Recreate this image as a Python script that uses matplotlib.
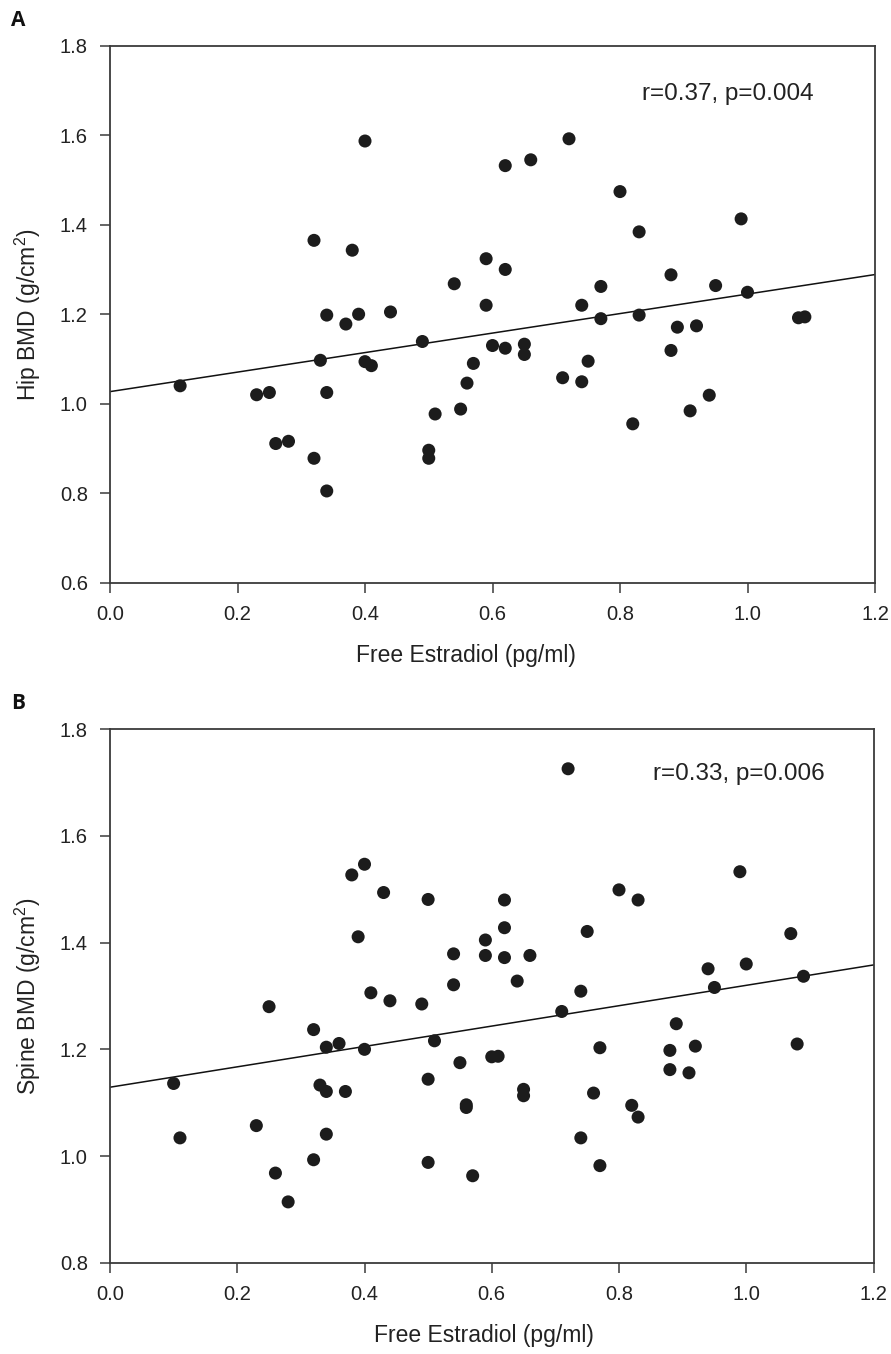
import matplotlib
matplotlib.use("Agg")
import matplotlib.pyplot as plt

plt.rcParams['font.family'] = ['Liberation Sans', 'DejaVu Sans']
plt.rcParams['mathtext.fontset'] = 'custom'
plt.rcParams['mathtext.rm'] = 'Liberation Sans'
plt.rcParams['mathtext.it'] = 'Liberation Sans:italic'
plt.rcParams['mathtext.bf'] = 'Liberation Sans:bold'

# ---- Panel A: Hip BMD vs Free Estradiol ----
hip_x = [0.11, 0.23, 0.25, 0.26, 0.28, 0.32, 0.33, 0.34, 0.34, 0.34,
         0.37, 0.39, 0.40, 0.41, 0.44, 0.49, 0.50, 0.50, 0.51, 0.55,
         0.56, 0.57, 0.59, 0.60, 0.40, 0.32, 0.38, 0.59, 0.54, 0.62,
         0.66, 0.72, 0.80, 0.83, 0.99, 0.62, 0.88, 0.77, 0.95, 1.00,
         0.74, 0.77, 0.83, 0.89, 0.92, 1.08, 1.09, 0.62, 0.65, 0.65,
         0.75, 0.71, 0.74, 0.88, 0.94, 0.91, 0.82]
hip_y = [1.040, 1.020, 1.025, 0.911, 0.916, 0.878, 1.097, 1.198, 1.025, 0.805,
         1.178, 1.200, 1.094, 1.085, 1.205, 1.139, 0.896, 0.878, 0.977, 0.988,
         1.046, 1.090, 1.220, 1.130, 1.587, 1.365, 1.343, 1.324, 1.268, 1.532,
         1.545, 1.592, 1.474, 1.384, 1.413, 1.300, 1.288, 1.262, 1.264, 1.249,
         1.220, 1.190, 1.198, 1.171, 1.174, 1.192, 1.194, 1.124, 1.133, 1.110,
         1.095, 1.058, 1.049, 1.119, 1.019, 0.984, 0.955]
hip_fit = (1.027, 0.218)      # intercept, slope of the drawn regression line
hip_stats = "r=0.37, p=0.004"

# ---- Panel B: Spine BMD vs Free Estradiol ----
spine_x = [0.10, 0.11, 0.23, 0.25, 0.26, 0.28, 0.32, 0.32, 0.33, 0.34,
           0.34, 0.34, 0.36, 0.37, 0.38, 0.39, 0.40, 0.40, 0.41, 0.43,
           0.44, 0.49, 0.50, 0.50, 0.50, 0.51, 0.54, 0.54, 0.55, 0.56,
           0.56, 0.57, 0.59, 0.59, 0.60, 0.61, 0.62, 0.62, 0.62, 0.64,
           0.65, 0.65, 0.66, 0.71, 0.72, 0.74, 0.74, 0.75, 0.76, 0.77,
           0.77, 0.80, 0.82, 0.83, 0.83, 0.88, 0.88, 0.89, 0.91, 0.92,
           0.94, 0.95, 0.99, 1.00, 1.07, 1.08, 1.09]
spine_y = [1.136, 1.034, 1.057, 1.280, 0.968, 0.914, 1.237, 0.993, 1.133, 1.204,
           1.121, 1.041, 1.211, 1.121, 1.527, 1.411, 1.547, 1.200, 1.306, 1.494,
           1.291, 1.285, 1.481, 1.144, 0.988, 1.216, 1.379, 1.321, 1.175, 1.096,
           1.091, 0.963, 1.405, 1.376, 1.186, 1.187, 1.480, 1.428, 1.372, 1.328,
           1.125, 1.113, 1.376, 1.271, 1.726, 1.309, 1.034, 1.421, 1.118, 1.203,
           0.982, 1.499, 1.095, 1.480, 1.073, 1.198, 1.162, 1.248, 1.156, 1.206,
           1.351, 1.316, 1.533, 1.360, 1.417, 1.210, 1.337]
spine_fit = (1.129, 0.191)
spine_stats = "r=0.33, p=0.006"

x_ticks = [0.0, 0.2, 0.4, 0.6, 0.8, 1.0, 1.2]
hip_yticks = [0.6, 0.8, 1.0, 1.2, 1.4, 1.6, 1.8]
spine_yticks = [0.8, 1.0, 1.2, 1.4, 1.6, 1.8]
x_label = "Free Estradiol (pg/ml)"

W, H = 891, 1354
fig = plt.figure(figsize=(W / 100, H / 100), dpi=100)

TXT = '#222222'
SPINE = '#3a3a3a'
DOT = '#1c1c1c'

def px_axes(l, t, r, b):
    return [l / W, 1 - b / H, (r - l) / W, (b - t) / H]

def panel(rect, xs, ys, fit, stats, yticks, ylabel, stat_pos, xlab_x):
    ax = fig.add_axes(rect)
    ax.scatter(xs, ys, s=88, color=DOT, edgecolors='none', zorder=3)
    ax.axline((0, fit[0]), slope=fit[1], color='#111111', lw=1.1, zorder=2)
    ax.set_xlim(0, 1.2)
    ax.set_ylim(yticks[0], yticks[-1])
    ax.set_xticks(x_ticks)
    ax.set_xticklabels([f"{t:.1f}" for t in x_ticks])
    ax.set_yticks(yticks)
    ax.set_yticklabels([f"{t:.1f}" for t in yticks])
    ax.tick_params(axis='both', direction='out', length=7, width=1.1,
                   color=SPINE, labelsize=14.5, labelcolor=TXT)
    ax.tick_params(axis='y', pad=9)
    ax.tick_params(axis='x', pad=9)
    for s in ax.spines.values():
        s.set_color(SPINE)
        s.set_linewidth(1.3)
    ax.set_xlabel(x_label, fontsize=16.5, color=TXT, va='top')
    ax.xaxis.set_label_coords(xlab_x, -0.115)
    ax.set_ylabel(ylabel, fontsize=16.5, color=TXT)
    ax.yaxis.set_label_coords(-0.088, 0.5)
    ax.text(stat_pos[0], stat_pos[1], stats, transform=ax.transAxes,
            fontsize=17.5, color=TXT, ha='left', va='baseline')
    return ax

panel(px_axes(110, 45.7, 875, 582.7), hip_x, hip_y, hip_fit, hip_stats,
      hip_yticks, r'Hip BMD (g/cm$^2$)', (0.695, 0.899), 0.465)
panel(px_axes(110, 729.3, 873.5, 1262.7), spine_x, spine_y, spine_fit, spine_stats,
      spine_yticks, r'Spine BMD (g/cm$^2$)', (0.711, 0.905), 0.49)

fig.text(11 / W, 1 - 26 / H, "A", fontsize=15, fontweight='bold',
         family=['Open Sans', 'DejaVu Sans'], color='#111111', va='baseline')
fig.text(11 / W, 1 - 709 / H, "B", fontsize=15, fontweight='bold',
         family=['Open Sans', 'DejaVu Sans'], color='#111111', va='baseline')

fig.savefig("out.png", dpi=100, facecolor='white')
